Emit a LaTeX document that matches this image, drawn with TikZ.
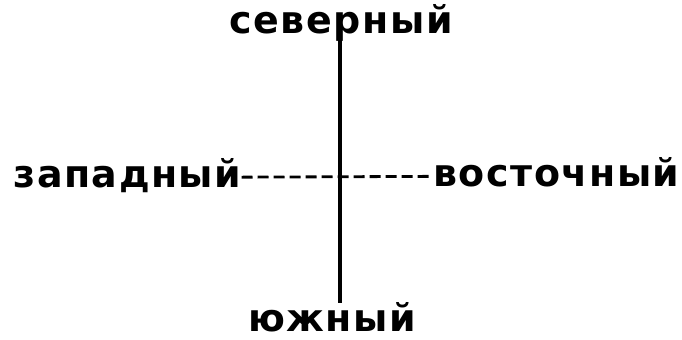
\documentclass[tikz,border=0pt]{standalone}
\usepackage{fontspec}
\newfontfamily\dirfont{DejaVu Sans}[LetterSpace=4]
\usepackage{tikz}
\usetikzlibrary{positioning}

\begin{document}
\begin{tikzpicture}[
    dir/.style={font=\dirfont\bfseries\fontsize{27}{32}\selectfont, inner sep=0pt,
        text height=14pt, text depth=0pt}]
    \useasboundingbox (0,0) rectangle (17.05,8.475);
    \node[dir, anchor=base] (north) at (8.53,7.65) {северный};
    \node[dir, anchor=base west] (west) at (0.33,3.8) {западный};
    \node[dir, anchor=base west] (east) at (10.83,3.82) {восточный};
    \node[dir, anchor=base] (south) at (8.3,0.2) {южный};
    \coordinate (top) at (8.5,7.52);
    \coordinate (bottom) at (8.5,0.9);

    \draw[line width=2.8pt] (top) -- (bottom);
    \draw[line width=2pt, dash pattern=on 0.27cm off 0.13cm] (west.east) -- (east.west);
\end{tikzpicture}
\end{document}
